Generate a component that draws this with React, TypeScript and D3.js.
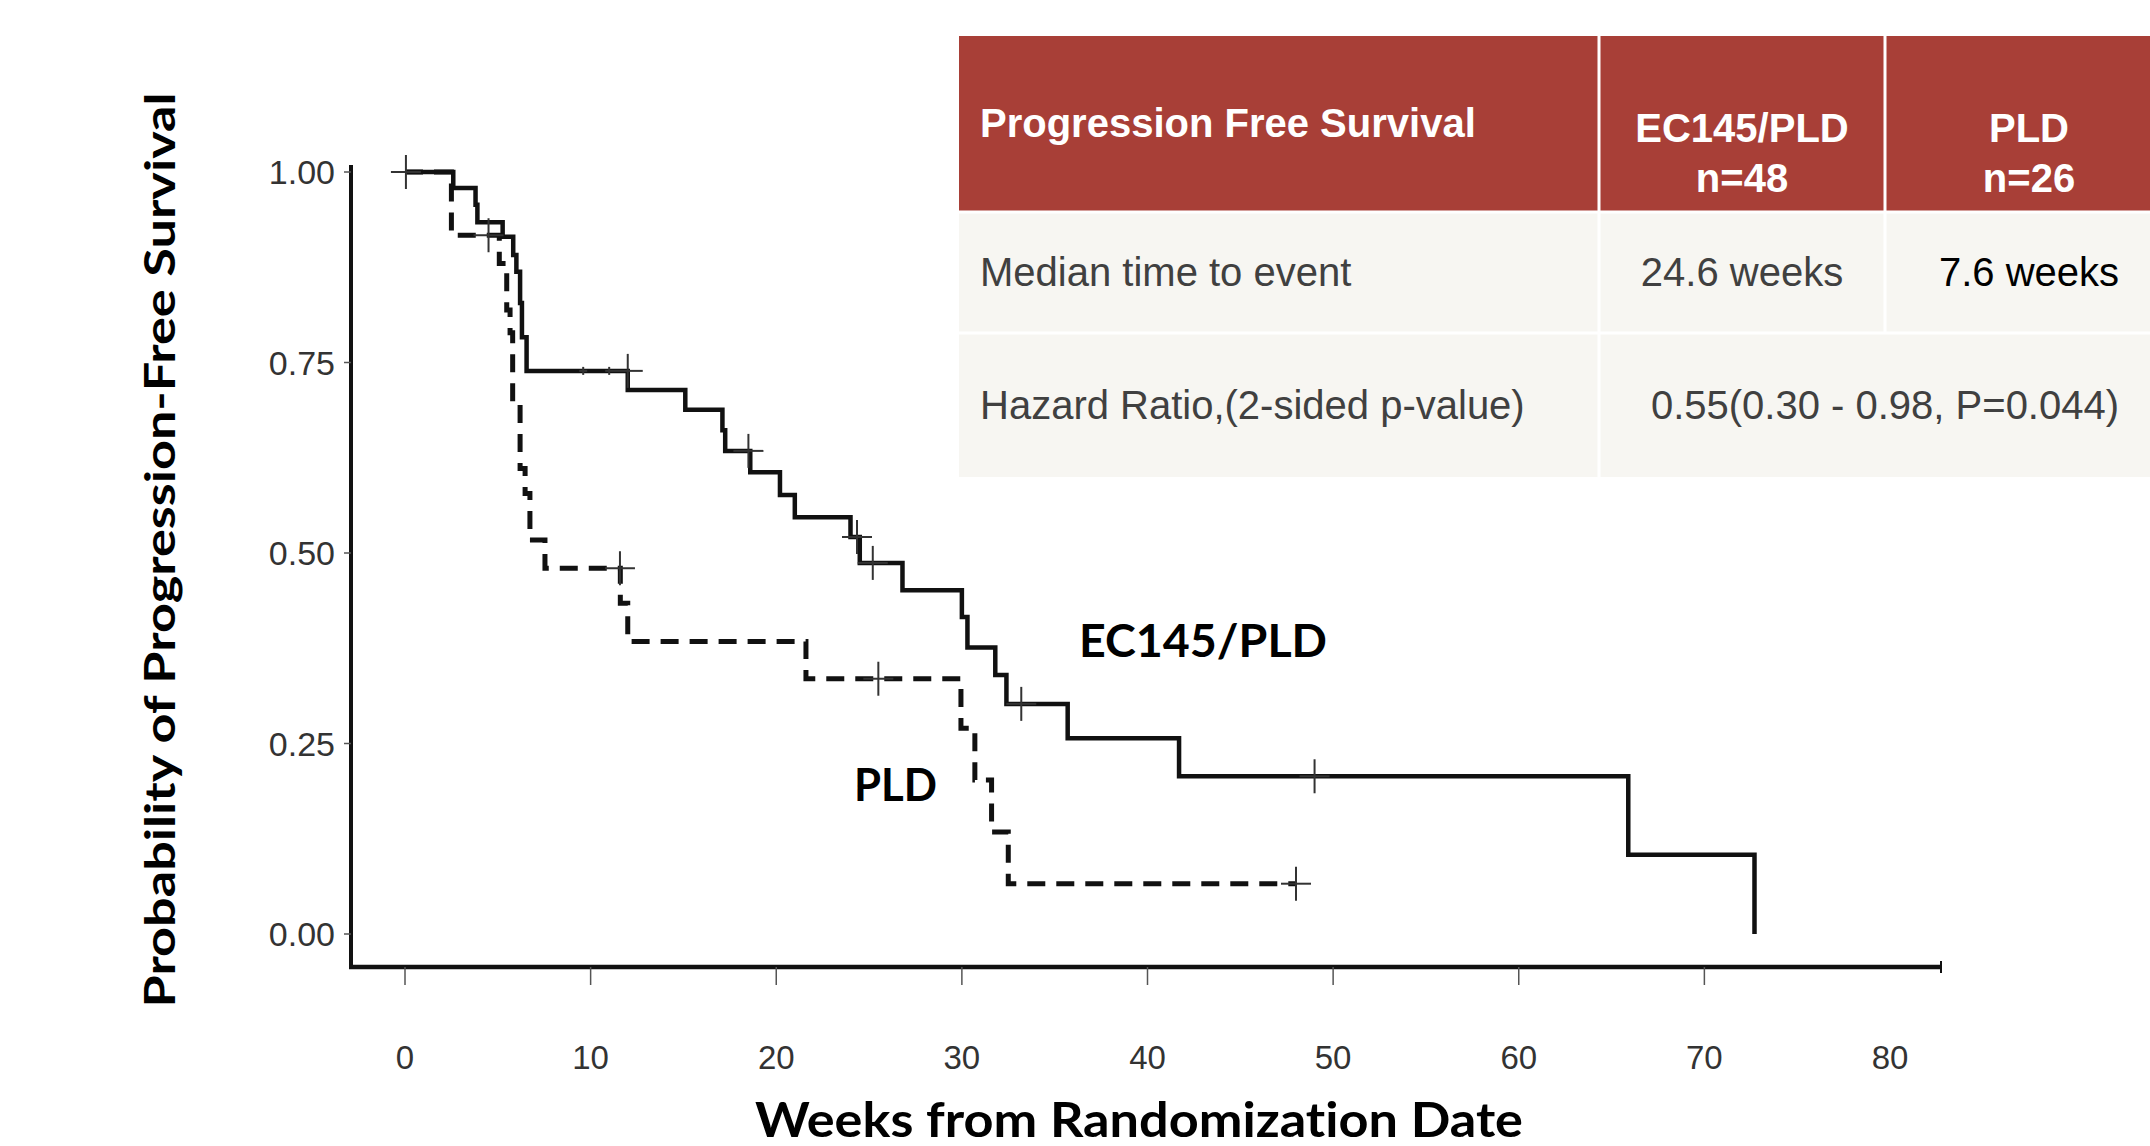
import React, { useEffect, useRef } from 'react';
import * as d3 from 'd3';

// axis ticks
const weekTicks = [0, 10, 20, 30, 40, 50, 60, 70, 80];
const weekTickMarks = [0, 10, 20, 30, 40, 50, 60, 70];
const probTicks = [0, 0.25, 0.5, 0.75, 1];

// EC145/PLD arm, solid step curve
const ecWeeks = [0, 2.6, 3.8, 3.9, 5.26, 5.83, 6.0, 6.2, 6.3, 6.55, 12.0, 15.1, 17.1, 17.25, 18.6, 20.2, 21.0, 24.0, 24.5, 26.8, 30.0, 30.3, 31.8, 32.4, 35.7, 41.7, 65.9, 72.7];
const ecProb = [1.0, 0.979, 0.957, 0.934, 0.915, 0.891, 0.869, 0.828, 0.783, 0.739, 0.714, 0.688, 0.661, 0.634, 0.606, 0.576, 0.547, 0.521, 0.487, 0.451, 0.416, 0.376, 0.34, 0.302, 0.257, 0.207, 0.104, 0.0];
const ecCensorWeeks = [0.05, 12.0, 18.5, 24.35, 25.2, 33.2, 49.0];
const ecCensorProb = [1.0, 0.739, 0.634, 0.521, 0.487, 0.302, 0.207];
const ecSmallCensorWeeks = [9.6, 11.0];
const ecSmallCensorProb = [0.739, 0.739];

// PLD arm, dashed step curve
const pldWeeks = [0, 2.5, 5.08, 5.48, 5.66, 5.8, 6.2, 6.47, 6.73, 7.54, 11.6, 12.0, 21.6, 29.95, 30.7, 31.6, 32.5, 48.0];
const pldProb = [1.0, 0.917, 0.88, 0.819, 0.789, 0.697, 0.611, 0.578, 0.517, 0.48, 0.434, 0.384, 0.335, 0.27, 0.202, 0.134, 0.066, 0.066];
const pldCensorWeeks = [4.5, 11.58, 25.5, 48.0];
const pldCensorProb = [0.917, 0.48, 0.335, 0.066];

// table
const tableHead = ['Progression Free Survival', 'EC145/PLD', 'PLD'];
const armSizes = ['n=48', 'n=26'];
const rowLabels = ['Median time to event', 'Hazard Ratio,(2-sided p-value)'];
const medianValues = ['24.6 weeks', '7.6 weeks'];
const hazardValue = '0.55(0.30 - 0.98, P=0.044)';

const W = 2150;
const H = 1146;
const ARIAL = "'Liberation Sans', Arial, sans-serif";
const BOLD_LABEL = "Lato, 'Open Sans', sans-serif";

function drawChart(svg) {
  const x = d3.scaleLinear().domain([0, 80]).range([405, 1890]);
  const y = d3.scaleLinear().domain([0, 1]).range([934, 172]);
  const axisY = 967;
  const axisX = 351;

  // y axis
  svg.append('line')
    .attr('x1', axisX).attr('x2', axisX)
    .attr('y1', 165).attr('y2', axisY)
    .attr('stroke', '#111').attr('stroke-width', 4);
  svg.append('g').selectAll('line').data(probTicks).join('line')
    .attr('x1', axisX - 7).attr('x2', axisX)
    .attr('y1', d => y(d)).attr('y2', d => y(d))
    .attr('stroke', '#555').attr('stroke-width', 1.5);
  svg.append('g').selectAll('text').data(probTicks).join('text')
    .attr('x', 335).attr('y', d => y(d))
    .attr('dy', '0.36em')
    .attr('text-anchor', 'end')
    .attr('font-family', ARIAL).attr('font-size', 34).attr('fill', '#333')
    .text(d => d3.format('.2f')(d));

  // x axis
  svg.append('line')
    .attr('x1', axisX - 2).attr('x2', 1941)
    .attr('y1', axisY).attr('y2', axisY)
    .attr('stroke', '#111').attr('stroke-width', 4.5);
  svg.append('line')
    .attr('x1', 1941).attr('x2', 1941)
    .attr('y1', axisY - 6).attr('y2', axisY + 6)
    .attr('stroke', '#111').attr('stroke-width', 2);
  svg.append('g').selectAll('line').data(weekTickMarks).join('line')
    .attr('x1', d => x(d)).attr('x2', d => x(d))
    .attr('y1', axisY).attr('y2', axisY + 18)
    .attr('stroke', '#555').attr('stroke-width', 1.5);
  svg.append('g').selectAll('text').data(weekTicks).join('text')
    .attr('x', d => x(d)).attr('y', 1069)
    .attr('text-anchor', 'middle')
    .attr('font-family', ARIAL).attr('font-size', 33).attr('fill', '#333')
    .text(d => d);

  // step curves
  const line = d3.line().curve(d3.curveStepAfter)
    .x(d => x(d[0])).y(d => y(d[1]));
  svg.append('path')
    .datum(d3.zip(ecWeeks, ecProb))
    .attr('fill', 'none').attr('stroke', '#111').attr('stroke-width', 4.5)
    .attr('d', line);
  svg.append('path')
    .datum(d3.zip(pldWeeks, pldProb))
    .attr('fill', 'none').attr('stroke', '#111').attr('stroke-width', 5)
    .attr('stroke-dasharray', '18 11')
    .attr('d', line);

  // censor marks
  const cross = (wk, pr, hh, hw) => {
    const g = svg.append('g');
    const pts = d3.zip(wk, pr);
    g.selectAll('line.v').data(pts).join('line').attr('class', 'v')
      .attr('x1', d => x(d[0])).attr('x2', d => x(d[0]))
      .attr('y1', d => y(d[1]) - hh).attr('y2', d => y(d[1]) + hh)
      .attr('stroke', '#333').attr('stroke-width', 2);
    g.selectAll('line.h').data(pts).join('line').attr('class', 'h')
      .attr('x1', d => x(d[0]) - hw).attr('x2', d => x(d[0]) + hw)
      .attr('y1', d => y(d[1])).attr('y2', d => y(d[1]))
      .attr('stroke', '#333').attr('stroke-width', 2);
  };
  cross(ecCensorWeeks, ecCensorProb, 17, 15);
  cross(pldCensorWeeks, pldCensorProb, 17, 15);
  cross(ecSmallCensorWeeks, ecSmallCensorProb, 4, 4);

  // curve labels
  const boldLabel = (s, xx, yy, len) => svg.append('text')
    .attr('x', xx).attr('y', yy)
    .attr('font-family', BOLD_LABEL).attr('font-weight', 700).attr('font-size', 46)
    .attr('textLength', len).attr('lengthAdjust', 'spacingAndGlyphs')
    .style('font-variant-ligatures', 'none')
    .attr('fill', '#000')
    .text(s);
  boldLabel('EC145/PLD', 1079, 657, 248);
  boldLabel('PLD', 854, 801, 83);

  // axis titles
  svg.append('text')
    .attr('transform', 'translate(175,550) rotate(-90)')
    .attr('text-anchor', 'middle')
    .attr('font-family', BOLD_LABEL).attr('font-weight', 700).attr('font-size', 42)
    .attr('textLength', 915).attr('lengthAdjust', 'spacingAndGlyphs')
    .style('font-variant-ligatures', 'none')
    .attr('fill', '#000')
    .text('Probability of Progression-Free Survival');
  svg.append('text')
    .attr('x', 1139).attr('y', 1137)
    .attr('text-anchor', 'middle')
    .attr('font-family', BOLD_LABEL).attr('font-weight', 700).attr('font-size', 48)
    .attr('textLength', 768).attr('lengthAdjust', 'spacingAndGlyphs')
    .style('font-variant-ligatures', 'none')
    .attr('fill', '#000')
    .text('Weeks from Randomization Date');
}

function drawTable(svg) {
  const left = 959, col2 = 1599, col3 = 1885, right = W;
  const top = 36, headBottom = 212, row1Bottom = 333, bottom = 477;
  const g = svg.append('g');

  g.append('rect').attr('x', left).attr('y', top)
    .attr('width', right - left).attr('height', headBottom - top)
    .attr('fill', '#A83F37');
  g.append('rect').attr('x', left).attr('y', headBottom)
    .attr('width', right - left).attr('height', bottom - headBottom)
    .attr('fill', '#F7F6F2');

  const white = (x1, y1, x2, y2) => g.append('line')
    .attr('x1', x1).attr('y1', y1).attr('x2', x2).attr('y2', y2)
    .attr('stroke', '#fff').attr('stroke-width', 3);
  white(left, headBottom, right, headBottom);
  white(left, row1Bottom, right, row1Bottom);
  white(col2, top, col2, bottom);
  white(col3, top, col3, row1Bottom);

  const c2 = 1742, c3 = 2029, c23 = 1885;
  const txt = (s, xx, yy, anchor, color, weight) => g.append('text')
    .attr('x', xx).attr('y', yy)
    .attr('text-anchor', anchor)
    .attr('font-family', ARIAL).attr('font-size', 40)
    .attr('font-weight', weight).attr('fill', color)
    .text(s);

  txt(tableHead[0], 980, 137, 'start', '#fff', 700);
  txt(tableHead[1], c2, 142, 'middle', '#fff', 700);
  txt(armSizes[0], c2, 192, 'middle', '#fff', 700);
  txt(tableHead[2], c3, 142, 'middle', '#fff', 700);
  txt(armSizes[1], c3, 192, 'middle', '#fff', 700);

  txt(rowLabels[0], 980, 286, 'start', '#404040', 400);
  txt(medianValues[0], c2, 286, 'middle', '#404040', 400);
  txt(medianValues[1], c3, 286, 'middle', '#000', 400);
  txt(rowLabels[1], 980, 419, 'start', '#404040', 400);
  txt(hazardValue, c23, 419, 'middle', '#404040', 400);
}

export default function App() {
  const ref = useRef(null);

  useEffect(() => {
    const svg = d3.select(ref.current);
    svg.selectAll('*').remove();
    drawChart(svg);
    drawTable(svg);
  }, []);

  return (
    <svg
      ref={ref}
      width={W}
      height={H}
      style={{ position: 'absolute', left: 0, top: 0, background: '#fff', display: 'block' }}
    />
  );
}
